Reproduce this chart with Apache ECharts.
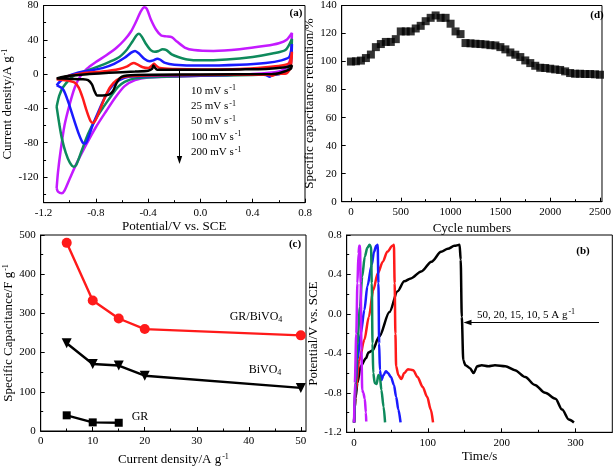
<!DOCTYPE html>
<html><head><meta charset="utf-8">
<script src="https://cdn.jsdelivr.net/npm/echarts@6/dist/echarts.min.js"></script>
<style>html,body{margin:0;padding:0;background:#fff}#c{width:614px;height:468px}</style>
</head><body><div id="c"></div>
<script>
// ---------- (a) CV curves: potential (V) and current density (A/g) ----------
const cvPot10 = [-1.10,-1.0,-0.85,-0.7,-0.5,-0.4,-0.37,-0.36,-0.35,-0.33,-0.2,0.0,0.3,0.5,0.65,0.70, 0.69,0.6,0.55,0.0,-0.5,-0.60,-0.64,-0.67,-0.70,-0.75,-0.79,-0.81,-0.83,-0.86,-0.9,-1.0,-1.10];
const cvCur10 = [-5,-2,0,1.5,3,4,6,10,8,5,5,5,5.5,6,8,10, 6,1,0,-0.5,-1,-3,-10,-20,-24,-25,-25,-20,-12,-7,-6,-5.5,-5];
const cvPot25 = [-1.10,-1.0,-0.9,-0.75,-0.62,-0.56,-0.53,-0.51,-0.48,-0.44,-0.40,-0.37,-0.355,-0.34,-0.31,-0.2,0.0,0.3,0.5,0.62,0.68,0.70, 0.69,0.66,0.58,0.55,0.53,0.4,0.0,-0.4,-0.58,-0.64,-0.69,-0.73,-0.77,-0.80,-0.82,-0.84,-0.87,-0.90,-0.93,-0.96,-1.0,-1.05,-1.10];
const cvCur25 = [-6,-2,1,3,6,9,12,13,11,8,7,10,12,10,7,6,5.5,6,8,10,13,26, 8,1,0,-2,-1,-0.5,-1,-1.5,-3,-7,-15,-27,-42,-53,-57,-55,-43,-28,-16,-10,-8,-7,-6];
const cvPot50 = [-1.10,-1.07,-1.02,-0.95,-0.85,-0.75,-0.66,-0.58,-0.53,-0.50,-0.47,-0.43,-0.39,-0.36,-0.33,-0.31,-0.27,-0.2,0.0,0.3,0.5,0.62,0.68,0.70, 0.69,0.66,0.60,0.55,0.53,0.50,0.4,0.2,0.0,-0.3,-0.55,-0.62,-0.67,-0.72,-0.77,-0.82,-0.86,-0.88,-0.90,-0.93,-0.97,-1.01,-1.05,-1.10];
const cvCur50 = [-13,-8,-3,1,4,7,12,19,25,27,24,18,15,16,18,17,13,11,10,11,13,16,20,35, 10,2,0,-1,-3,-1,-0.5,-1,-1.5,-2,-3,-7,-13,-24,-40,-58,-75,-81,-80,-70,-52,-33,-18,-13];
const cvPot100 = [-1.10,-1.08,-1.05,-1.0,-0.95,-0.87,-0.78,-0.70,-0.62,-0.56,-0.52,-0.49,-0.47,-0.45,-0.42,-0.38,-0.35,-0.32,-0.29,-0.26,-0.22,-0.17,-0.10,0.0,0.2,0.4,0.55,0.65,0.70, 0.69,0.66,0.6,0.4,0.2,0.0,-0.3,-0.5,-0.58,-0.63,-0.68,-0.74,-0.80,-0.86,-0.91,-0.95,-0.97,-1.00,-1.03,-1.06,-1.08,-1.10];
const cvCur100 = [-38,-25,-15,-6,0,4,9,14,20,29,38,45,47,44,36,28,26,27,29,28,23,20,17,16,17,20,24,28,41, 15,3,0,-1,-1.5,-2,-3,-5,-9,-15,-25,-38,-52,-70,-90,-106,-108,-103,-92,-75,-58,-38];
const cvPot200 = [-1.10,-1.09,-1.07,-1.04,-1.0,-0.96,-0.92,-0.87,-0.80,-0.72,-0.64,-0.58,-0.53,-0.49,-0.46,-0.43,-0.41,-0.38,-0.34,-0.30,-0.26,-0.22,-0.18,-0.12,-0.05,0.1,0.3,0.5,0.6,0.66,0.70, 0.69,0.66,0.6,0.4,0.2,0.0,-0.2,-0.4,-0.5,-0.58,-0.65,-0.72,-0.8,-0.88,-0.95,-1.00,-1.04,-1.06,-1.09,-1.10];
const cvCur200 = [-133,-115,-90,-60,-35,-15,-3,6,14,22,31,40,50,62,72,78,76,64,52,45,44,43,38,31,28,27,29,33,36,40,48, 20,8,3,0,-1,-2,-3,-4,-7,-14,-27,-43,-62,-84,-105,-122,-136,-139,-137,-133];
const cvLabels = ['10 mV s', '25 mV s', '50 mV s', '100 mV s', '200 mV s'];

// ---------- (d) cycling ----------
const cycleNum = [0,50,100,150,200,250,300,350,400,450,500,550,600,650,700,750,800,850,900,950,1000,1050,1100,1150,1200,1250,1300,1350,1400,1450,1500,1550,1600,1650,1700,1750,1800,1850,1900,1950,2000,2050,2100,2150,2200,2250,2300,2350,2400,2450,2500];
const retention = [100,100.2,100.7,102.5,105,110.3,112.5,114,114,116,121.5,121.5,121.5,123.6,125.5,128.8,131.2,132.9,131.2,131.2,127,121.5,119.6,113.2,113,112.7,112.5,112.2,111.7,111.5,110.3,108.7,106.5,104.9,103.2,100.8,98.9,97,95.6,95.4,94.9,94.4,94,93,91.8,91.3,91.3,91.1,91.1,90.9,90.6];

// ---------- (c) rate capability ----------
const rateX = [5,10,15,20,50];
const gbvCap = [480,333,287,260,244];
const bvCap = [224,171,167,141,110];
const grX = [5,10,15];
const grCap = [40,22,21];

// ---------- (b) GCD ----------
const gcd5T = [0,1,2,4.5,9,16,19.5,25,34,48,59,68,77,91,105,118,127,136,143,144.5,146,148,151,157,162,167,173,182,191,205,218,232,245,259,273,282,291,298];
const gcd5V = [-1.1,-0.95,-0.85,-0.70,-0.53,-0.45,-0.39,-0.37,-0.23,0.02,0.23,0.33,0.36,0.43,0.53,0.63,0.66,0.69,0.70,0.55,-0.03,-0.47,-0.52,-0.55,-0.60,-0.53,-0.52,-0.53,-0.52,-0.53,-0.57,-0.64,-0.72,-0.80,-0.86,-0.97,-1.07,-1.1];
const gcd10T = [0,2.3,7,14,20,26,32,39,45,52,54,55,56,57,60,64,68,73,80,86,93,99,104,107];
const gcd10V = [-1.1,-0.77,-0.47,-0.26,-0.03,0.24,0.41,0.53,0.63,0.69,0.70,0.31,-0.2,-0.53,-0.62,-0.66,-0.6,-0.56,-0.57,-0.64,-0.74,-0.84,-0.97,-1.1];
const gcd15T = [0,2.3,4.5,9,14,18,24,27,30,32,33,34,35,37,40,43,46,50,54,57,60,63];
const gcd15V = [-1.1,-0.7,-0.47,-0.2,0.04,0.28,0.5,0.63,0.69,0.70,0.31,-0.3,-0.57,-0.67,-0.62,-0.58,-0.6,-0.64,-0.72,-0.84,-0.97,-1.1];
const gcd20T = [0,2,4.5,8,11,14.5,18,21,23,24,25,26,28,30.5,33,35,37,40,42];
const gcd20V = [-1.1,-0.7,-0.3,0.07,0.38,0.58,0.67,0.70,0.68,0.31,-0.3,-0.6,-0.7,-0.71,-0.62,-0.64,-0.77,-0.94,-1.1];
const gcd50T = [0,1,3,4.5,6,7,8,9,10,11,12.5,14.5,16,16.5];
const gcd50V = [-1.1,-0.7,-0.2,0.31,0.61,0.69,0.69,0.31,-0.37,-0.77,-0.8,-0.86,-1.0,-1.09];

// ---------- tick values ----------
const aXTicks = [-1.2,-0.8,-0.4,0,0.4,0.8], aXMinor = [-1.0,-0.6,-0.2,0.2,0.6];
const aYTicks = [-120,-80,-40,0,40,80], aYMinor = [-140,-100,-60,-20,20,60];
const dXTicks = [0,500,1000,1500,2000,2500], dXMinor = [250,750,1250,1750,2250];
const dYTicks = [0,20,40,60,80,100,120,140], dYMinor = [];
const cXTicks = [0,10,20,30,40,50], cXMinor = [5,15,25,35,45];
const cYTicks = [0,100,200,300,400,500], cYMinor = [50,150,250,350,450];
const bXTicks = [0,100,200,300], bXMinor = [50,150,250];
const bYTicks = [-1.2,-0.8,-0.4,0,0.4,0.8], bYMinor = [-1.0,-0.6,-0.2,0.2,0.6];

const FF = '"Liberation Serif", "Times New Roman", serif';
const zip = (a, b) => a.map((v, i) => [v, b[i]]);
const supRich = {
  s: {fontSize: 8, fontFamily: FF, color: '#000', verticalAlign: 'top', padding: [0, 0, 6, 1]},
  b: {fontSize: 8, fontFamily: FF, color: '#000', verticalAlign: 'bottom', padding: [6, 0, 0, 0]}
};

function axisPair(dim, grid, min, max, ticks, minor, fmt, name, gap, labMargin) {
  const main = {
    type: 'value', gridIndex: grid, min: min, max: max,
    axisLine: {show: true, onZero: false, lineStyle: {color: '#000', width: 1}},
    axisTick: {show: true, inside: true, length: 4, customValues: ticks, lineStyle: {color: '#000', width: 1}},
    axisLabel: {show: true, customValues: ticks, formatter: fmt, color: '#000', fontFamily: FF, fontSize: 11, margin: labMargin},
    splitLine: {show: false},
    name: name, nameLocation: 'middle', nameGap: gap,
    nameTextStyle: {color: '#000', fontFamily: FF, fontSize: 13, rich: supRich}
  };
  const mn = {
    type: 'value', gridIndex: grid, min: min, max: max,
    axisLine: {show: false, onZero: false},
    axisTick: {show: minor.length > 0, inside: true, length: 2.5, customValues: minor.length ? minor : [min], lineStyle: {color: '#000', width: 1}},
    axisLabel: {show: false},
    splitLine: {show: false}
  };
  if (dim === 'x') { main.position = 'bottom'; mn.position = 'bottom'; }
  else { main.position = 'left'; mn.position = 'left'; }
  return [main, mn];
}
const f1 = v => Number(v).toFixed(1);
const f0 = v => String(Math.round(v));

const xAxes = [].concat(
  axisPair('x', 0, -1.2, 0.8, aXTicks, aXMinor, f1, 'Potential/V vs. SCE', 17, 5),
  axisPair('x', 1, -93, 2520, dXTicks, dXMinor, f0, 'Cycle numbers', 20, 5),
  axisPair('x', 2, 0, 51, cXTicks, cXMinor, f0, 'Current density/A g{s|-1}', 22, 5),
  axisPair('x', 3, -10, 350, bXTicks, bXMinor, f0, 'Time/s', 18, 5)
);
const yAxes = [].concat(
  axisPair('y', 0, -150, 80, aYTicks, aYMinor, f0, 'Current density/A g{s|-1}', 26, 5),
  axisPair('y', 1, 0, 140, dYTicks, dYMinor, f0, 'Specific capacitance retention/%', 19, 5),
  axisPair('y', 2, 0, 500, cYTicks, cYMinor, f0, 'Specific Capacitance/F g{s|-1}', 24, 5),
  axisPair('y', 3, -1.2, 0.8, bYTicks, bYMinor, f1, 'Potential/V vs. SCE', 19, 5)
);

const gridStyle = {show: true, borderColor: '#000', borderWidth: 1, backgroundColor: 'transparent', containLabel: false};
const grids = [
  Object.assign({left: 39.5, top: 5.5, width: 265.5, height: 197.2}, gridStyle),
  Object.assign({left: 341.7, top: 5.5, width: 261.3, height: 196.2}, gridStyle),
  Object.assign({left: 40.7, top: 235, width: 265.3, height: 196}, gridStyle),
  Object.assign({left: 346.7, top: 235, width: 265.6, height: 197.3}, gridStyle)
];

const C_BLACK = '#000000', C_RED = '#ff1a1a', C_BLUE = '#1a1aff', C_GREEN = '#0e8a5c', C_PURPLE = '#c41aff';

function cv(p, c, color) {
  return {type: 'line', xAxisIndex: 0, yAxisIndex: 0, data: zip(p, c), showSymbol: false, smooth: 0.25,
    lineStyle: {color: color, width: 2.5}, silent: true, z: 3};
}
function gcd(t, v, color) {
  return {type: 'line', xAxisIndex: 6, yAxisIndex: 6, data: zip(t, v), showSymbol: false, smooth: 0.3, smoothMonotone: 'x',
    lineStyle: {color: color, width: 2.5}, silent: true, z: 3};
}

const series = [
  cv(cvPot200, cvCur200, C_PURPLE),
  cv(cvPot100, cvCur100, C_GREEN),
  cv(cvPot50, cvCur50, C_BLUE),
  cv(cvPot25, cvCur25, C_RED),
  cv(cvPot10, cvCur10, C_BLACK),
  {type: 'scatter', xAxisIndex: 2, yAxisIndex: 2, data: zip(cycleNum, retention), symbol: 'rect', symbolSize: 8,
    itemStyle: {color: '#000'}, silent: true},
  {type: 'line', xAxisIndex: 4, yAxisIndex: 4, data: zip(rateX, gbvCap), symbol: 'circle', symbolSize: 10,
    lineStyle: {color: C_RED, width: 2.4}, itemStyle: {color: C_RED}, silent: true},
  {type: 'line', xAxisIndex: 4, yAxisIndex: 4, data: zip(rateX, bvCap), symbol: 'triangle', symbolRotate: 180, symbolSize: 10,
    lineStyle: {color: '#000', width: 2.4}, itemStyle: {color: '#000'}, silent: true},
  {type: 'line', xAxisIndex: 4, yAxisIndex: 4, data: zip(grX, grCap), symbol: 'rect', symbolSize: 8,
    lineStyle: {color: '#000', width: 2.4}, itemStyle: {color: '#000'}, silent: true},
  gcd(gcd5T, gcd5V, C_BLACK),
  gcd(gcd10T, gcd10V, C_RED),
  gcd(gcd15T, gcd15V, C_BLUE),
  gcd(gcd20T, gcd20V, C_GREEN),
  gcd(gcd50T, gcd50V, C_PURPLE)
];

function txt(x, y, text, size, opts) {
  return {type: 'text', x: x, y: y, z: 10, silent: true,
    style: Object.assign({text: text, fill: '#000', fontFamily: FF, fontSize: size, align: 'left', verticalAlign: 'middle', rich: supRich}, opts || {})};
}
const legendYs = [91, 106.5, 121.5, 137, 152.5];
const graphics = [];
cvLabels.forEach((l, i) => graphics.push(txt(191, legendYs[i], l + '{s|-1}', 11)));
graphics.push(
  {type: 'line', silent: true, z: 10, shape: {x1: 179.5, y1: 70.5, x2: 179.5, y2: 158}, style: {stroke: '#000', lineWidth: 1}},
  {type: 'polygon', silent: true, z: 10, shape: {points: [[176.8, 156], [182.2, 156], [179.5, 164]]}, style: {fill: '#000'}},
  {type: 'line', silent: true, z: 10, shape: {x1: 599, y1: 322.5, x2: 470, y2: 322.5}, style: {stroke: '#000', lineWidth: 1}},
  {type: 'polygon', silent: true, z: 10, shape: {points: [[463.5, 322.5], [471.5, 319.8], [471.5, 325.2]]}, style: {fill: '#000'}},
  txt(526, 315, '50, 20, 15, 10, 5 A g{s|-1}', 11, {align: 'center'}),
  txt(296, 13.5, '(a)', 11, {align: 'center', fontWeight: 'bold'}),
  txt(597, 15, '(d)', 11, {align: 'center', fontWeight: 'bold'}),
  txt(295, 244, '(c)', 11, {align: 'center', fontWeight: 'bold'}),
  txt(583, 251, '(b)', 11, {align: 'center', fontWeight: 'bold'}),
  txt(256, 317, 'GR/BiVO{b|4}', 12, {align: 'center'}),
  txt(265, 370, 'BiVO{b|4}', 12, {align: 'center'}),
  txt(140, 416.5, 'GR', 12, {align: 'center'})
);

const chart = echarts.init(document.getElementById('c'), null, {renderer: 'canvas'});
chart.setOption({
  animation: false,
  backgroundColor: '#fff',
  grid: grids,
  xAxis: xAxes,
  yAxis: yAxes,
  series: series,
  graphic: graphics
});
</script></body></html>
